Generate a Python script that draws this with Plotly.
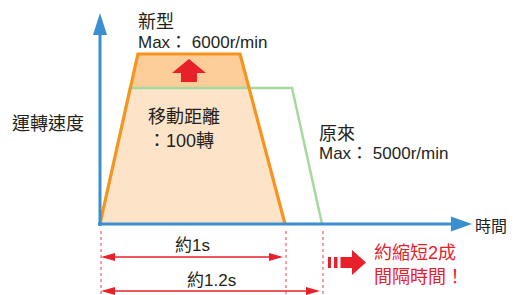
import plotly.graph_objects as go

# ---------------- data ----------------
time_new = [0.0, 0.205, 0.757, 1.0]        # s
speed_new = [0, 6000, 6000, 0]             # r/min
time_old = [0.0, 0.162, 1.038, 1.2]
speed_old = [0, 4800, 4800, 0]
dim_times = [1.0, 1.2]
dim_labels = ["約1s", "約1.2s"]

# ---------------- geometry ----------------
OFF = 8                  # page body margin
W, H = 516 - OFF, 295 - OFF
X0PX, Y0PX = 100, 224    # origin in screen pixels
XS = 185.0               # px per second
YS = 170.0 / 6000        # px per r/min

fx0 = X0PX - OFF
fy0 = Y0PX - OFF
xr = [-fx0 / XS, (W - fx0) / XS]
yr = [-(H - fy0) / YS, fy0 / YS]

def dx(p):
    return p / XS

def dy(p):
    return p / YS

def X(xp):  # screen pixel -> data
    return (xp - X0PX) / XS

def Y(yp):
    return (Y0PX - yp) / YS

BLUE = "#3b8ed0"
ORANGE = "#f7941d"
LIGHT = "#fde3c8"
DARK = "#fccd98"
GREEN = "#a5d99d"
RED = "#e8202a"
PINK = "#f0808a"
TXT = "#231f20"
FONT = "Liberation Sans, Arial, Noto Sans CJK TC, sans-serif"

fig = go.Figure()

fig.add_trace(go.Scatter(x=time_new, y=speed_new, fill="toself", fillcolor=LIGHT,
                         mode="lines", line=dict(width=0), hoverinfo="skip"))
lvl = speed_old[1]
def interp(x0, y0, x1, y1, y):
    return x0 + (x1 - x0) * (y - y0) / (y1 - y0)
xl = interp(time_new[0], speed_new[0], time_new[1], speed_new[1], lvl)
xrr = interp(time_new[3], speed_new[3], time_new[2], speed_new[2], lvl)
fig.add_trace(go.Scatter(x=[xl, time_new[1], time_new[2], xrr, xl],
                         y=[lvl, speed_new[1], speed_new[2], lvl, lvl],
                         fill="toself", fillcolor=DARK, mode="lines",
                         line=dict(width=0), hoverinfo="skip"))
fig.add_trace(go.Scatter(x=time_old, y=speed_old, mode="lines",
                         line=dict(color=GREEN, width=2.5), hoverinfo="skip"))
fig.add_trace(go.Scatter(x=time_new, y=speed_new, mode="lines",
                         line=dict(color=ORANGE, width=3.2), hoverinfo="skip"))

shapes = []

def poly(pts, color):
    d = "M " + " L ".join(f"{a},{b}" for a, b in pts) + " Z"
    shapes.append(dict(type="path", path=d, xref="x", yref="y",
                       fillcolor=color, line=dict(width=0), layer="above"))

# red up arrow
cx = (time_new[1] + time_new[2]) / 2
ytop = speed_new[1]
tip = ytop - dy(5)
hb = ytop - dy(19)
sb = ytop - dy(28)
poly([(cx, tip), (cx + dx(17), hb), (cx + dx(8), hb), (cx + dx(8), sb),
      (cx - dx(8), sb), (cx - dx(8), hb), (cx - dx(17), hb)], RED)

# axes
shapes.append(dict(type="line", xref="x", yref="y", x0=-dx(2), x1=X(455), y0=0, y1=0,
                   line=dict(color=BLUE, width=3), layer="above"))
poly([(X(472), 0), (X(451), dy(7.5)), (X(451), -dy(7.5))], BLUE)
shapes.append(dict(type="line", xref="x", yref="y", x0=0, x1=0, y0=-dy(2), y1=Y(32),
                   line=dict(color=BLUE, width=3), layer="above"))
poly([(0, Y(13)), (-dx(7), Y(35)), (dx(7), Y(35))], BLUE)

# dotted guides
for t in [0.0] + dim_times:
    shapes.append(dict(type="line", xref="x", yref="y", x0=t + dx(1), x1=t + dx(1),
                       y0=Y(231), y1=Y(295),
                       line=dict(color=PINK, width=1.5, dash="dot"), layer="above"))

ann = []
dim_y = [257, 291]
lab_y = [245, 280]
for t, lab, ya, yl in zip(dim_times, dim_labels, dim_y, lab_y):
    left = dx(1)
    right = t - dx(2)
    shapes.append(dict(type="line", xref="x", yref="y", x0=left + dx(8), x1=right - dx(8),
                       y0=Y(ya), y1=Y(ya), line=dict(color=RED, width=1.6), layer="above"))
    poly([(left, Y(ya)), (left + dx(14), Y(ya) + dy(4)), (left + dx(14), Y(ya) - dy(4))], RED)
    poly([(right, Y(ya)), (right - dx(14), Y(ya) + dy(4)), (right - dx(14), Y(ya) - dy(4))], RED)
    ann.append(dict(x=t / 2, y=Y(yl), text=lab, showarrow=False, xanchor="center",
                    yanchor="middle", font=dict(size=17, color=TXT, family=FONT)))

# red dashed block arrow
for a, b in [(328, 331), (334, 337.5), (340.5, 352)]:
    poly([(X(a), Y(257)), (X(b), Y(257)), (X(b), Y(268)), (X(a), Y(268))], RED)
poly([(X(352), Y(250)), (X(366), Y(262.5)), (X(352), Y(275))], RED)

def txt(xp, yp, s, size=17, color=TXT, anchor="left"):
    ann.append(dict(x=X(xp), y=Y(yp), text=s, showarrow=False, xanchor=anchor,
                    yanchor="middle", borderpad=0,
                    font=dict(size=size, color=color, family=FONT)))

txt(137, 22, "新型", 18)
txt(137, 42, "Max： 6000r/min", 17)
txt(318, 134, "原來", 18)
txt(318, 153, "Max： 5000r/min", 17)
txt(48, 124, "運轉速度", 18, anchor="center")
txt(474, 226, "時間", 16)
txt(147, 117, "移動距離", 18)
txt(147, 141, "：100轉", 18)
txt(373, 253, "約縮短2成", 18, RED)
txt(373, 277, "間隔時間！", 18, RED)

fig.update_layout(
    width=W, height=H, margin=dict(l=0, r=0, t=0, b=0),
    paper_bgcolor="white", plot_bgcolor="white", showlegend=False,
    xaxis=dict(range=xr, visible=False, fixedrange=True),
    yaxis=dict(range=yr, visible=False, fixedrange=True),
    shapes=shapes, annotations=ann,
)
fig.write_html("out.html")
